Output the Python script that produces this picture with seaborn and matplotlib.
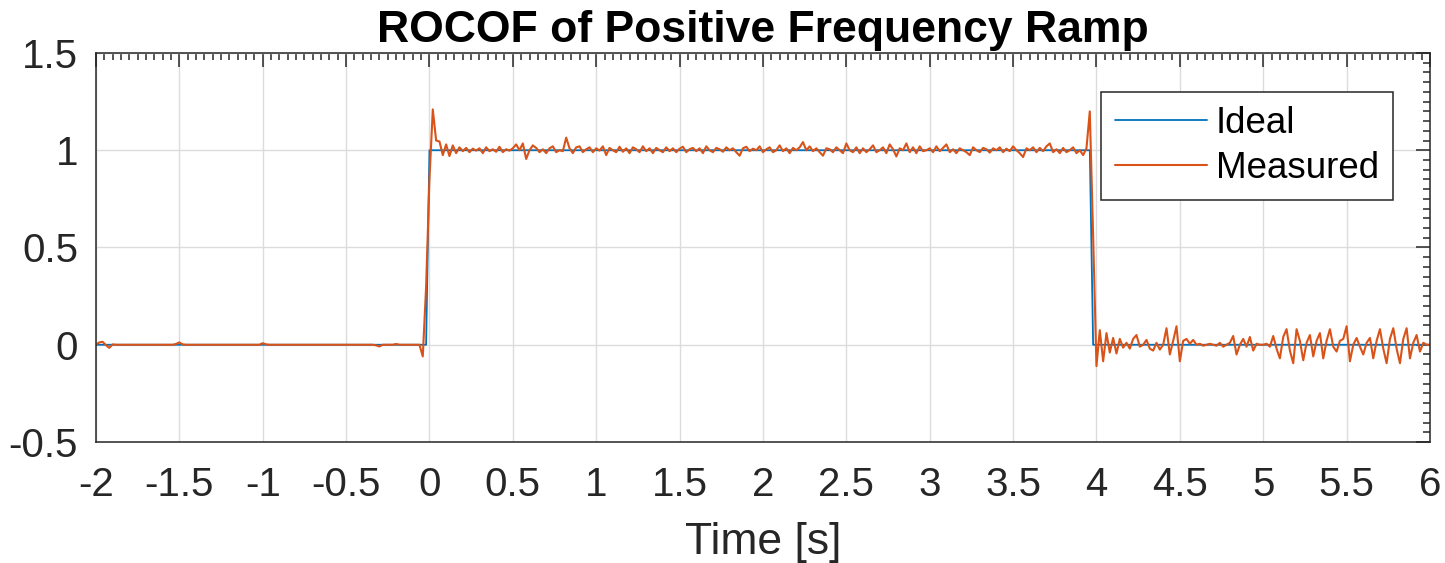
import numpy as np
import pandas as pd
import seaborn as sns
import matplotlib
matplotlib.use("Agg")
import matplotlib.pyplot as plt
from matplotlib.ticker import AutoMinorLocator, FuncFormatter

# ---------------- data ----------------
title = "ROCOF of Positive Frequency Ramp"
xlabel = "Time [s]"
series_names = ["Ideal", "Measured"]

# Ideal ROCOF (breakpoints of the step)
ideal_time = [-2.00, -0.02, 0.00, 3.96, 3.98, 6.00]
ideal_rocof = [0.0, 0.0, 1.0, 1.0, 0.0, 0.0]

# Measured ROCOF, sampled every 0.02 s from -2.00 s to 6.00 s
measured_time = np.round(np.linspace(-2.0, 6.0, 401), 2)
measured_rocof = [
    # -2.00 .. -0.02
    0.000, 0.012, 0.015, -0.002, -0.016, 0.002, 0.000, 0.000, 0.000, 0.000,
    0.000, 0.000, 0.000, 0.000, 0.000, 0.000, 0.000, 0.000, 0.000, 0.000,
    0.000, 0.000, 0.000, 0.000, 0.004, 0.012, 0.002, 0.000, 0.000, 0.000,
    0.000, 0.000, 0.000, 0.000, 0.000, 0.000, 0.000, 0.000, 0.000, 0.000,
    0.000, 0.000, 0.000, 0.000, 0.000, 0.000, 0.000, 0.000, 0.000, 0.000,
    0.008, 0.002, 0.000, 0.000, 0.000, 0.000, 0.000, 0.000, 0.000, 0.000,
    0.000, 0.000, 0.000, 0.000, 0.000, 0.000, 0.000, 0.000, 0.000, 0.000,
    0.000, 0.000, 0.000, 0.000, 0.000, 0.000, 0.000, 0.000, 0.000, 0.000,
    0.000, 0.000, 0.000, 0.000, -0.003, -0.009, 0.000, 0.000, 0.000, 0.000,
    0.004, 0.000, 0.000, 0.000, 0.000, 0.000, 0.000, 0.000, -0.060, 0.300,
    # 0.00 .. 1.98
    0.850, 1.210, 1.050, 1.045, 0.975, 1.030, 0.970, 1.025, 0.985, 1.015,
    0.995, 1.012, 0.990, 1.008, 0.998, 1.010, 0.985, 1.015, 0.995, 1.005,
    0.992, 1.018, 0.990, 1.005, 0.998, 1.010, 1.030, 1.000, 1.035, 0.955,
    1.000, 1.025, 1.012, 0.990, 1.005, 0.985, 1.010, 1.020, 0.990, 1.000,
    0.995, 1.065, 1.010, 0.985, 1.015, 1.020, 0.990, 1.005, 1.015, 0.990,
    1.010, 0.998, 1.020, 0.975, 1.012, 1.000, 0.990, 1.018, 0.992, 1.010,
    0.985, 1.015, 1.005, 0.990, 1.020, 0.995, 1.010, 0.985, 1.012, 1.000,
    0.990, 1.015, 0.995, 1.010, 0.990, 1.008, 1.018, 0.990, 1.005, 1.012,
    0.995, 1.010, 0.985, 1.020, 1.000, 0.990, 1.012, 1.005, 0.992, 1.015,
    1.000, 1.010, 0.990, 0.972, 1.010, 1.018, 0.995, 1.008, 1.000, 1.020,
    # 2.00 .. 3.98
    0.990, 1.005, 1.015, 0.990, 1.000, 1.025, 0.995, 1.010, 0.985, 1.012,
    1.000, 1.015, 1.042, 1.000, 1.020, 0.995, 1.010, 0.990, 0.972, 1.010,
    1.005, 0.990, 1.015, 1.000, 0.985, 1.035, 1.000, 0.990, 1.015, 0.985,
    1.010, 0.990, 1.005, 1.025, 0.990, 1.000, 1.015, 0.985, 1.030, 1.005,
    0.968, 1.010, 1.000, 1.035, 0.990, 1.015, 0.985, 1.020, 0.995, 1.000,
    1.010, 0.990, 1.020, 0.995, 1.012, 1.030, 0.990, 1.005, 0.985, 1.010,
    1.000, 0.990, 0.975, 1.015, 1.000, 0.990, 1.012, 1.005, 0.988, 1.010,
    1.000, 1.015, 0.990, 1.008, 0.995, 1.020, 1.000, 0.985, 0.965, 1.010,
    1.000, 1.015, 0.990, 1.012, 0.995, 1.020, 1.035, 0.990, 1.005, 0.985,
    1.012, 0.990, 1.000, 1.015, 0.985, 1.000, 0.975, 1.010, 1.200, 0.560,
    # 4.00 .. 5.98
    -0.110, 0.075, -0.085, 0.060, -0.040, 0.035, -0.045, 0.030, -0.015, 0.010,
    -0.020, 0.030, 0.050, -0.010, 0.000, 0.025, -0.020, -0.030, 0.010, -0.025,
    0.000, 0.085, -0.050, 0.020, 0.095, -0.085, 0.020, 0.030, 0.005, 0.025,
    0.000, 0.005, -0.005, 0.000, 0.005, 0.000, -0.005, 0.010, -0.010, 0.000,
    0.010, 0.045, -0.050, 0.000, 0.030, -0.010, 0.040, -0.030, 0.005, 0.000,
    0.000, 0.005, -0.010, 0.045, -0.020, -0.070, 0.040, 0.080, -0.030, -0.095,
    0.080, 0.020, -0.080, 0.010, 0.050, -0.060, 0.020, 0.060, -0.070, 0.020,
    0.080, -0.010, -0.035, 0.020, 0.030, 0.095, -0.085, 0.000, 0.035, -0.010,
    -0.050, 0.010, 0.035, -0.070, 0.020, 0.080, -0.020, -0.095, 0.030, 0.085,
    -0.020, -0.095, 0.030, 0.085, -0.070, 0.010, 0.050, -0.035, 0.010, 0.000,
    # 6.00
    0.000,
]

x_ticks = [-2, -1.5, -1, -0.5, 0, 0.5, 1, 1.5, 2, 2.5, 3, 3.5, 4, 4.5, 5, 5.5, 6]
y_ticks = [-0.5, 0, 0.5, 1, 1.5]

colors = {"Ideal": "#0072BD", "Measured": "#D95319"}

ideal_df = pd.DataFrame({"Time": ideal_time, "ROCOF": ideal_rocof})
meas_df = pd.DataFrame({"Time": measured_time, "ROCOF": measured_rocof})

# ---------------- style ----------------
sns.set_style("white")
plt.rcParams["font.family"] = ["Liberation Sans", "DejaVu Sans"]
plt.rcParams["axes.unicode_minus"] = False

fig = plt.figure(figsize=(14.45, 5.63), dpi=100)
ax = fig.add_axes([0.0664, 0.2149, 0.9232, 0.6910])

sns.lineplot(data=ideal_df, x="Time", y="ROCOF", ax=ax, color=colors["Ideal"],
             linewidth=1.3, label=series_names[0], estimator=None, sort=False)
sns.lineplot(data=meas_df, x="Time", y="ROCOF", ax=ax, color=colors["Measured"],
             linewidth=1.5, label=series_names[1], estimator=None, sort=False)

ax.set_xlim(-2, 6)
ax.set_ylim(-0.5, 1.5)
ax.set_xticks(x_ticks)
ax.set_yticks(y_ticks)
fmt = FuncFormatter(lambda v, p: "%g" % v)
ax.xaxis.set_major_formatter(fmt)
ax.yaxis.set_major_formatter(fmt)
ax.xaxis.set_minor_locator(AutoMinorLocator(10))
ax.yaxis.set_minor_locator(AutoMinorLocator(10))

ax.grid(True, which="major", color="#DCDCDC", linewidth=1.0)
ax.set_axisbelow(True)

ax.tick_params(which="both", direction="in", top=True, right=True,
               color="#262626", width=1.1)
ax.tick_params(which="major", length=10, labelsize=29, labelcolor="#262626")
ax.tick_params(which="minor", length=5)
ax.tick_params(axis="x", which="major", pad=17)
ax.tick_params(axis="y", which="major", pad=13)
for s in ax.spines.values():
    s.set_color("#262626")
    s.set_linewidth(1.1)

ax.set_xlabel(xlabel, fontsize=32, color="#262626", labelpad=13)
ax.set_ylabel("")
ax.set_title(title, fontsize=32, fontweight="bold", color="black", pad=8)

leg = ax.legend(loc="upper right", bbox_to_anchor=(0.9723, 0.8997),
                fontsize=26.5, frameon=True, fancybox=False, framealpha=1,
                edgecolor="#262626", borderaxespad=0, handlelength=2.5,
                handletextpad=0.25, labelspacing=0.28, borderpad=0.38)
leg.get_frame().set_linewidth(1.1)
for t in leg.get_texts():
    t.set_color("black")

fig.savefig("out.png", dpi=100)
